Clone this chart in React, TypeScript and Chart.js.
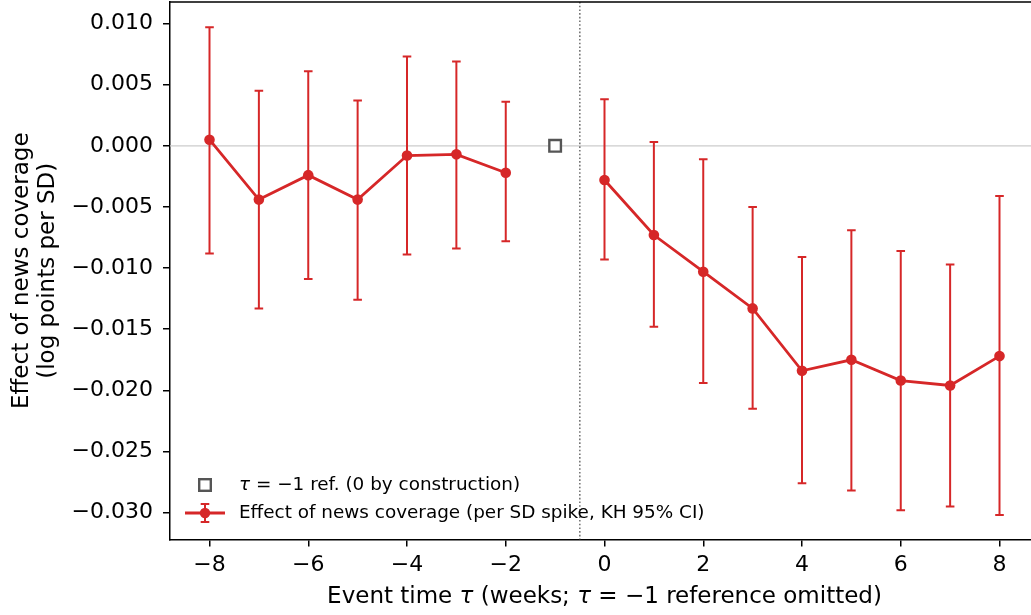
import React, { useEffect, useRef } from "react";
import { Chart, registerables } from "chart.js";

Chart.register(...registerables);

// ---- Data ----
const eventTimes = [-8, -7, -6, -5, -4, -3, -2, -1, 0, 1, 2, 3, 4, 5, 6, 7, 8];
const effect: (number | null)[] = [0.0005, -0.0044, -0.0024, -0.0044, -0.0008, -0.0007, -0.0022, null, -0.0028, -0.0073, -0.0103, -0.0133, -0.0184, -0.0175, -0.0192, -0.0196, -0.0172];
const ciLow: (number | null)[] = [-0.0088, -0.0133, -0.0109, -0.0126, -0.0089, -0.0084, -0.0078, null, -0.0093, -0.0148, -0.0194, -0.0215, -0.0276, -0.0282, -0.0298, -0.0295, -0.0302];
const ciHigh: (number | null)[] = [0.0097, 0.0045, 0.0061, 0.0037, 0.0073, 0.0069, 0.0036, null, 0.0038, 0.0003, -0.0011, -0.005, -0.0091, -0.0069, -0.0086, -0.0097, -0.0041];
const refTime = [-1];
const refValue = [0];
const refLineX = -0.5;
const xTicks = [-8, -6, -4, -2, 0, 2, 4, 6, 8];
const yTicks = [0.01, 0.005, 0, -0.005, -0.01, -0.015, -0.02, -0.025, -0.03];

const seriesLabel = "Effect of news coverage (per SD spike, KH 95% CI)";
const refLabel = [{ t: "τ", i: true }, { t: " = −1 ref. (0 by construction)", i: false }];
const xTitle = [
  { t: "Event time ", i: false },
  { t: "τ", i: true },
  { t: " (weeks; ", i: false },
  { t: "τ", i: true },
  { t: " = −1 reference omitted)", i: false },
];
const yTitle = ["Effect of news coverage", "(log points per SD)"];

const RED = "#d62728";
const FONT = "'DejaVu Sans', sans-serif";
const AREA = { left: 170, top: 2, right: 1039, bottom: 539.5 };

const fmtMinus = (s: string) => s.replace("-", "−");

function drawMixed(ctx: CanvasRenderingContext2D, segs: { t: string; i: boolean }[], x: number, y: number, size: number, align: "left" | "center") {
  let total = 0;
  const widths = segs.map((s) => {
    ctx.font = `${s.i ? "italic " : ""}${size}px ${FONT}`;
    const w = ctx.measureText(s.t).width;
    total += w;
    return w;
  });
  let cx = align === "center" ? x - total / 2 : x;
  ctx.textAlign = "left";
  segs.forEach((s, k) => {
    ctx.font = `${s.i ? "italic " : ""}${size}px ${FONT}`;
    ctx.fillText(s.t, cx, y);
    cx += widths[k];
  });
}

const overlay = {
  id: "overlay",
  beforeDatasetsDraw(chart: any) {
    const { ctx, chartArea: a, scales } = chart;
    const x = scales.x, y = scales.y;
    ctx.save();
    ctx.beginPath();
    ctx.rect(a.left, a.top, a.right - a.left, a.bottom - a.top);
    ctx.clip();
    const y0 = y.getPixelForValue(0);
    ctx.strokeStyle = "#cccccc";
    ctx.lineWidth = 1.3;
    ctx.beginPath();
    ctx.moveTo(a.left, y0);
    ctx.lineTo(a.right, y0);
    ctx.stroke();
    const xv = x.getPixelForValue(refLineX);
    ctx.strokeStyle = "#777777";
    ctx.lineWidth = 1.6;
    ctx.setLineDash([1.6, 2.1]);
    ctx.beginPath();
    ctx.moveTo(xv, a.top);
    ctx.lineTo(xv, a.bottom);
    ctx.stroke();
    ctx.setLineDash([]);
    ctx.strokeStyle = RED;
    ctx.lineWidth = 2;
    eventTimes.forEach((t, k) => {
      const lo = ciLow[k], hi = ciHigh[k];
      if (lo === null || hi === null) return;
      const px = x.getPixelForValue(t);
      const pl = y.getPixelForValue(lo);
      const ph = y.getPixelForValue(hi);
      ctx.beginPath();
      ctx.moveTo(px, pl);
      ctx.lineTo(px, ph);
      ctx.moveTo(px - 4.3, pl);
      ctx.lineTo(px + 4.3, pl);
      ctx.moveTo(px - 4.3, ph);
      ctx.lineTo(px + 4.3, ph);
      ctx.stroke();
    });
    ctx.restore();
  },
  afterDraw(chart: any) {
    const { ctx, chartArea: a } = chart;
    ctx.save();
    ctx.strokeStyle = "#000";
    ctx.lineWidth = 1.5;
    ctx.beginPath();
    ctx.moveTo(a.left, a.top);
    ctx.lineTo(a.right, a.top);
    ctx.lineTo(a.right, a.bottom);
    ctx.stroke();
    ctx.fillStyle = "#000";
    ctx.textBaseline = "middle";
    drawMixed(ctx, xTitle, (a.left + a.right) / 2, 597, 23, "center");
    ctx.save();
    ctx.translate(0, (a.top + a.bottom) / 2);
    ctx.rotate(-Math.PI / 2);
    ctx.textAlign = "center";
    ctx.font = `23px ${FONT}`;
    ctx.fillText(yTitle[0], 0, 22);
    ctx.fillText(yTitle[1], 0, 48);
    ctx.restore();
    const lx = 205, r1 = 485, r2 = 513, tx = 239;
    ctx.strokeStyle = "#555555";
    ctx.fillStyle = "#ffffff";
    ctx.lineWidth = 2.4;
    ctx.fillRect(lx - 5.8, r1 - 5.8, 11.6, 11.6);
    ctx.strokeRect(lx - 5.8, r1 - 5.8, 11.6, 11.6);
    ctx.strokeStyle = RED;
    ctx.lineWidth = 2.8;
    ctx.beginPath();
    ctx.moveTo(185, r2);
    ctx.lineTo(225, r2);
    ctx.stroke();
    ctx.lineWidth = 2;
    ctx.beginPath();
    ctx.moveTo(lx, r2 - 9);
    ctx.lineTo(lx, r2 + 9);
    ctx.moveTo(lx - 4.3, r2 - 9);
    ctx.lineTo(lx + 4.3, r2 - 9);
    ctx.moveTo(lx - 4.3, r2 + 9);
    ctx.lineTo(lx + 4.3, r2 + 9);
    ctx.stroke();
    ctx.fillStyle = RED;
    ctx.beginPath();
    ctx.arc(lx, r2, 5.2, 0, Math.PI * 2);
    ctx.fill();
    ctx.fillStyle = "#000";
    ctx.textBaseline = "middle";
    drawMixed(ctx, refLabel, tx, r1, 18.4, "left");
    drawMixed(ctx, [{ t: seriesLabel, i: false }], tx, r2, 18.4, "left");
    ctx.restore();
  },
};

export default function App() {
  const ref = useRef<HTMLCanvasElement>(null);
  useEffect(() => {
    if (!ref.current) return;
    const W = 1045, H = 615;
    const chart = new Chart(ref.current, {
      type: "line",
      data: {
        datasets: [
          {
            label: seriesLabel,
            data: eventTimes.map((t, k) => ({ x: t, y: effect[k] })) as any,
            borderColor: RED,
            backgroundColor: RED,
            borderWidth: 2.8,
            pointRadius: 5.3,
            pointBorderWidth: 0,
            pointBackgroundColor: RED,
            spanGaps: false,
          },
          {
            label: "ref",
            data: refTime.map((t, k) => ({ x: t, y: refValue[k] })) as any,
            showLine: false,
            pointStyle: "rect",
            pointRadius: 8.2,
            borderColor: "#555555",
            pointBorderColor: "#555555",
            pointBackgroundColor: "#ffffff",
            pointBorderWidth: 2.4,
          },
        ],
      },
      options: {
        responsive: false,
        animation: false,
        layout: { autoPadding: false, padding: { top: AREA.top, right: W - AREA.right, left: 0, bottom: 0 } },
        plugins: { legend: { display: false }, tooltip: { enabled: false } },
        scales: {
          x: {
            type: "linear",
            min: -8.8,
            max: 8.8,
            afterFit: (s: any) => { s.height = H - AREA.bottom; s.paddingLeft = 0; s.paddingRight = 0; },
            afterBuildTicks: (s: any) => { s.ticks = xTicks.map((v) => ({ value: v })); },
            ticks: {
              color: "#000",
              font: { family: FONT, size: 22 },
              padding: 6,
              maxRotation: 0,
              callback: (v: any) => fmtMinus(String(v)),
            },
            grid: { display: true, drawOnChartArea: false, drawTicks: true, tickLength: 7, color: "#000", lineWidth: 1.5 },
            border: { display: true, color: "#000", width: 1.5 },
          },
          y: {
            type: "linear",
            min: -0.0322,
            max: 0.01176,
            afterFit: (s: any) => { s.width = AREA.left; s.paddingTop = 0; s.paddingBottom = 0; },
            afterBuildTicks: (s: any) => { s.ticks = yTicks.map((v) => ({ value: v })); },
            ticks: {
              color: "#000",
              font: { family: FONT, size: 22 },
              padding: 10,
              callback: (v: any) => fmtMinus(Number(v).toFixed(3)),
            },
            grid: { display: true, drawOnChartArea: false, drawTicks: true, tickLength: 7, color: "#000", lineWidth: 1.5 },
            border: { display: true, color: "#000", width: 1.5 },
          },
        },
      },
      plugins: [overlay],
    });
    return () => chart.destroy();
  }, []);
  return (
    <div style={{ position: "fixed", left: 0, top: 0, width: 1031, height: 615, overflow: "hidden", background: "#fff" }}>
      <canvas ref={ref} width={1045} height={615} style={{ display: "block" }} />
    </div>
  );
}
